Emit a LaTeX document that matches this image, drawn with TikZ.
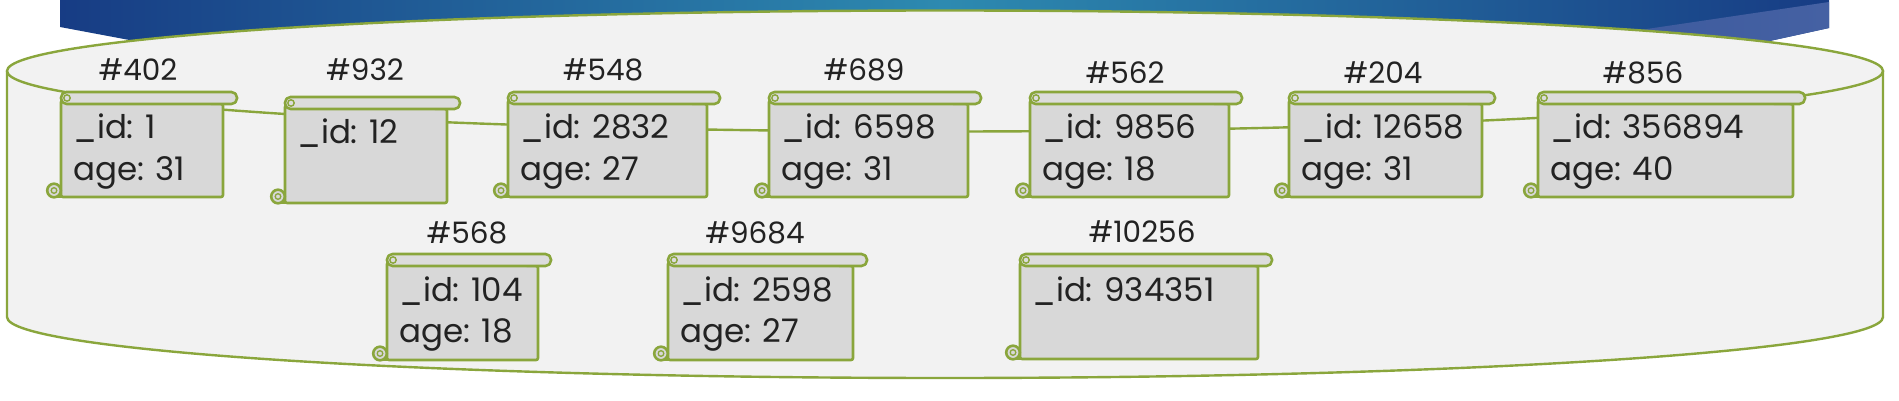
\documentclass[tikz,border=0pt]{standalone}
\usepackage{fontspec}
\setmainfont{Poppins}
\definecolor{cylgreen}{HTML}{8AA63C}
\definecolor{cylfill}{HTML}{F2F2F2}
\definecolor{scrgray}{HTML}{D8D8D8}
\definecolor{scrbar}{HTML}{DCDCDC}
\definecolor{navyA}{HTML}{173C84}
\definecolor{tealB}{HTML}{2D8AB0}
\definecolor{paleblue}{HTML}{4561A3}
\definecolor{txtdark}{HTML}{222222}
\tikzset{
  scrline/.style={draw=cylgreen, line width=2.6pt, line join=round},
  cylline/.style={draw=cylgreen, line width=2.4pt},
  bodytext/.style={anchor=base west, inner sep=0pt, text=txtdark, font=\fontsize{32.5}{38}\selectfont},
  hashlabel/.style={inner sep=0pt, text=txtdark, font=\fontsize{29.5}{34}\selectfont}
}
% #1 name, #2 L, #3 T, #4 R, #5 B, #6 bar right, #7 line 1, #8 line 2
\newcommand\docscroll[8]{%
  \draw[scrline, fill=scrgray, rounded corners=2pt] (#2,{#3+8}) -- (#2,#5) -- (#4,#5) -- (#4,{#3+12}) -- cycle;
  \draw[scrline, fill=scrbar, rounded corners=5.5pt] (#2,#3) rectangle (#6,{#3+12});
  \draw[draw=cylgreen, line width=1.4pt] ({#2+6},{#3+6}) circle (3.2);
  \draw[scrline, fill=scrgray] ({#2-7},{#5-6.5}) circle (6.8);
  \draw[draw=cylgreen, line width=1.3pt] ({#2-7},{#5-6.5}) circle (2.8);
  \draw[scrline] ({#2-7},#5) -- (#4,#5);
  \node[bodytext] (#1-id) at ({#2+12},{#3+47}) {#7};
  \node[bodytext] (#1-age) at ({#2+12},{#3+88}) {#8};
}
\begin{document}
\begin{tikzpicture}[x=1pt,y=-1pt]
\useasboundingbox (0,0) rectangle (1899,401);
\fill[white] (0,0) rectangle (1899,401);
% banner
\shade[left color=navyA, right color=navyA, middle color=tealB]
  (60,0) -- (1829,0) -- (1829,28) -- (1765,42) -- (140,42) -- (60,27) -- cycle;
\shade[left color=paleblue!85!navyA, right color=paleblue]
  (1640,30) -- (1829,2) -- (1829,28) -- (1765,42) -- cycle;
% cylinder
\fill[cylfill] (7,71) -- (7,317) arc[start angle=180, end angle=0, x radius=938, y radius=61]
  -- (1883,71) arc[start angle=0, end angle=-180, x radius=938, y radius=60.5] -- cycle;
\draw[cylline] (7,71) -- (7,317) arc[start angle=180, end angle=0, x radius=938, y radius=61] -- (1883,71);
\draw[cylline] (945,71) ellipse [x radius=938, y radius=60.5];
% documents, row 1
\docscroll{d402}{61}{92}{223}{197}{237}{\_id: 1}{age: 31}
\docscroll{d932}{285}{97}{447}{203}{460}{\_id: 12}{}
\docscroll{d548}{508}{92}{707}{197}{720}{\_id: 2832}{age: 27}
\docscroll{d689}{769}{92}{968}{197}{981}{\_id: 6598}{age: 31}
\docscroll{d562}{1030}{92}{1229}{197}{1242}{\_id: 9856}{age: 18}
\docscroll{d204}{1289}{92}{1482}{197}{1495}{\_id: 12658}{age: 31}
\docscroll{d856}{1538}{92}{1793}{197}{1805}{\_id: 356894}{age: 40}
% row 2
\docscroll{d568}{387}{254}{538}{360}{551}{\_id: 104}{age: 18}
\docscroll{d9684}{668}{254}{853}{360}{867}{\_id: 2598}{age: 27}
\docscroll{d10256}{1020}{254}{1258}{359}{1272}{\_id: 934351}{}
% labels
\node[hashlabel] (l402) at (138,70) {\#402};
\node[hashlabel] (l932) at (365,70) {\#932};
\node[hashlabel] (l548) at (603,70) {\#548};
\node[hashlabel] (l689) at (864,70) {\#689};
\node[hashlabel] (l562) at (1125,73) {\#562};
\node[hashlabel] (l204) at (1383,73) {\#204};
\node[hashlabel] (l856) at (1643,73) {\#856};
\node[hashlabel] (l568) at (467,233) {\#568};
\node[hashlabel] (l9684) at (755,233) {\#9684};
\node[hashlabel] (l10256) at (1142,232) {\#10256};
\end{tikzpicture}
\end{document}
